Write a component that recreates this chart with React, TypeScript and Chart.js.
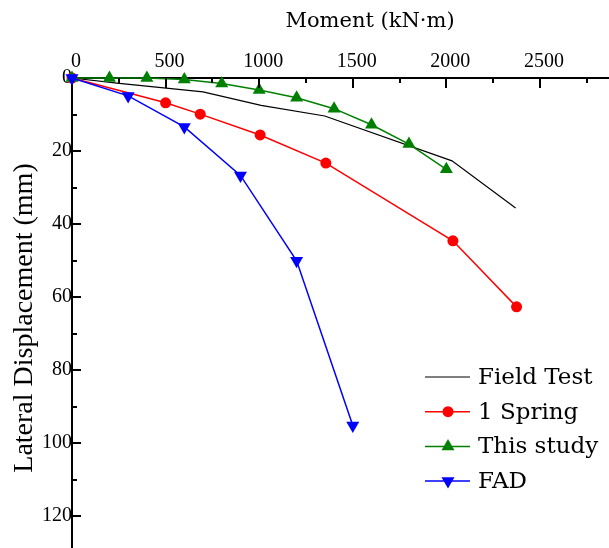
import React, { useEffect, useRef } from 'react';
import { Chart, registerables } from 'chart.js';

Chart.register(...registerables);

// Moment (kN·m) vs lateral displacement (mm)
const fieldX = [0, 240, 700, 1010, 1350, 2030, 2370];
const fieldY = [0, 1.4, 3.8, 7.5, 10.4, 22.7, 35.6];

const springX = [0, 500, 685, 1005, 1356, 2035, 2375];
const springY = [0, 6.8, 9.9, 15.6, 23.3, 44.6, 62.7];

const studyX = [0, 200, 400, 600, 800, 1000, 1200, 1400, 1600, 1800, 2000];
const studyY = [0, 0, 0, 0.4, 1.5, 3.3, 5.4, 8.4, 12.8, 18.1, 25];

const fadX = [0, 300, 600, 900, 1200, 1500];
const fadY = [0, 4.9, 13.4, 26.7, 50.1, 95.2];

const seriesNames = ['Field Test', '1 Spring', 'This study', 'FAD'];
const xTitle = 'Moment (kN·m)';
const yTitle = 'Lateral Displacement (mm)';
const xMajor = 500;
const xMinor = 250;
const yMajor = 20;
const yMinor = 10;

const toPts = (xs: number[], ys: number[]) => xs.map((x, i) => ({ x, y: ys[i] }));

function drawMarker(ctx: CanvasRenderingContext2D, style: string, rotationDeg: number, r: number, x: number, y: number, color: string) {
  ctx.save();
  ctx.fillStyle = color;
  ctx.beginPath();
  if (style === 'circle') {
    ctx.arc(x, y, r, 0, Math.PI * 2);
  } else {
    let rad = (rotationDeg * Math.PI) / 180;
    ctx.moveTo(x + Math.sin(rad) * r, y - Math.cos(rad) * r);
    rad += (2 * Math.PI) / 3;
    ctx.lineTo(x + Math.sin(rad) * r, y - Math.cos(rad) * r);
    rad += (2 * Math.PI) / 3;
    ctx.lineTo(x + Math.sin(rad) * r, y - Math.cos(rad) * r);
    ctx.closePath();
  }
  ctx.fill();
  ctx.restore();
}

const innerTicks = {
  id: 'innerTicks',
  afterDraw(chart: any) {
    const { ctx, chartArea, scales } = chart;
    ctx.save();
    ctx.strokeStyle = '#000';
    ctx.lineWidth = 2;
    const xs = scales.x;
    xs.ticks.forEach((t: any) => {
      const v = t.value;
      if (v === 0 || v % xMinor !== 0) return;
      const px = Math.round(xs.getPixelForValue(v));
      const len = v % xMajor === 0 ? 10 : 5;
      ctx.beginPath();
      ctx.moveTo(px, chartArea.top);
      ctx.lineTo(px, chartArea.top + len);
      ctx.stroke();
    });
    const ys = scales.y;
    ys.ticks.forEach((t: any) => {
      const v = t.value;
      if (v === 0 || v % yMinor !== 0) return;
      const py = Math.round(ys.getPixelForValue(v));
      const len = v % yMajor === 0 ? 9 : 5;
      ctx.beginPath();
      ctx.moveTo(chartArea.left, py);
      ctx.lineTo(chartArea.left + len, py);
      ctx.stroke();
    });
    ctx.restore();
  },
};

const customLegend = {
  id: 'customLegend',
  afterDraw(chart: any) {
    const ctx = chart.ctx as CanvasRenderingContext2D;
    chart.data.datasets.forEach((ds: any, i: number) => {
      const y = 377 + i * 34.7;
      ctx.save();
      ctx.strokeStyle = ds.borderColor;
      ctx.lineWidth = ds.borderWidth;
      ctx.beginPath();
      ctx.moveTo(425, y);
      ctx.lineTo(470, y);
      ctx.stroke();
      if (ds.pointRadius > 0) {
        drawMarker(ctx, ds.pointStyle, ds.pointRotation || 0, ds.pointRadius, 448, y, ds.backgroundColor);
      }
      ctx.fillStyle = '#000';
      ctx.font = '23px "DejaVu Serif"';
      ctx.textBaseline = 'middle';
      ctx.textAlign = 'left';
      ctx.fillText(ds.label, 478, y + 1);
      ctx.restore();
    });
  },
};

const zeroPadding = (s: any) => {
  s.paddingLeft = 0;
  s.paddingRight = 0;
  s.paddingTop = 0;
  s.paddingBottom = 0;
};

export default function App() {
  const ref = useRef<HTMLCanvasElement>(null);
  useEffect(() => {
    const chart = new Chart(ref.current as HTMLCanvasElement, {
      type: 'line',
      data: {
        datasets: [
          {
            label: seriesNames[0],
            data: toPts(fieldX, fieldY),
            borderColor: '#000000',
            backgroundColor: '#000000',
            borderWidth: 1.2,
            pointRadius: 0,
            order: 3,
          },
          {
            label: seriesNames[1],
            data: toPts(springX, springY),
            borderColor: '#ff0000',
            backgroundColor: '#ff0000',
            borderWidth: 1.5,
            pointStyle: 'circle',
            pointRadius: 5.5,
            pointBorderWidth: 0,
            order: 2,
          },
          {
            label: seriesNames[2],
            data: toPts(studyX, studyY),
            borderColor: '#008000',
            backgroundColor: '#008000',
            borderWidth: 1.5,
            pointStyle: 'triangle',
            pointRadius: 7.5,
            pointBorderWidth: 0,
            order: 1,
          },
          {
            label: seriesNames[3],
            data: toPts(fadX, fadY),
            borderColor: '#0000ff',
            backgroundColor: '#0000ff',
            borderWidth: 1.5,
            pointStyle: 'triangle',
            pointRotation: 180,
            pointRadius: 7.5,
            pointBorderWidth: 0,
            order: 0,
          },
        ] as any,
      },
      options: {
        responsive: false,
        animation: false,
        devicePixelRatio: 1,
        layout: { autoPadding: false, padding: { left: 0, top: 0, right: 0, bottom: 2 } },
        elements: { line: { tension: 0 } },
        datasets: { line: { clip: false } } as any,
        plugins: { legend: { display: false }, tooltip: { enabled: false } },
        scales: {
          x: {
            type: 'linear',
            position: 'top',
            min: 0,
            max: 3184,
            afterFit: (s: any) => {
              s.height = 78;
              zeroPadding(s);
            },
            grid: { display: false, drawTicks: false },
            border: { display: true, color: '#000', width: 2 },
            ticks: {
              stepSize: xMinor,
              autoSkip: false,
              maxRotation: 0,
              padding: 4,
              labelOffset: 4,
              color: '#000',
              font: { family: 'Liberation Serif', size: 20 },
              callback: (v: any) => (Number(v) % xMajor === 0 ? String(v) : ''),
            },
            title: {
              display: true,
              text: xTitle,
              color: '#000',
              font: { family: 'DejaVu Serif', size: 21 },
              padding: { top: 9, bottom: 0 },
            },
          },
          y: {
            type: 'linear',
            position: 'left',
            reverse: true,
            min: 0,
            max: 131.5,
            afterFit: (s: any) => {
              s.width = 72;
              zeroPadding(s);
            },
            grid: { display: false, drawTicks: false },
            border: { display: true, color: '#000', width: 2 },
            ticks: {
              stepSize: yMinor,
              autoSkip: false,
              padding: 0,
              color: '#000',
              font: { family: 'Liberation Serif', size: 20 },
              callback: (v: any) => (Number(v) % yMajor === 0 ? String(v) : ''),
            },
            title: {
              display: true,
              text: yTitle,
              color: '#000',
              font: { family: 'Liberation Serif', size: 28 },
              padding: { top: 8, bottom: 0 },
            },
          },
        },
      } as any,
      plugins: [innerTicks, customLegend],
    });
    return () => chart.destroy();
  }, []);
  return (
    <div
      style={{
        position: 'fixed',
        left: 0,
        top: 0,
        width: 609,
        height: 548,
        overflow: 'hidden',
        background: '#fff',
      }}
    >
      <canvas ref={ref} width={668} height={560} style={{ display: 'block', width: 668, height: 560 }} />
    </div>
  );
}
